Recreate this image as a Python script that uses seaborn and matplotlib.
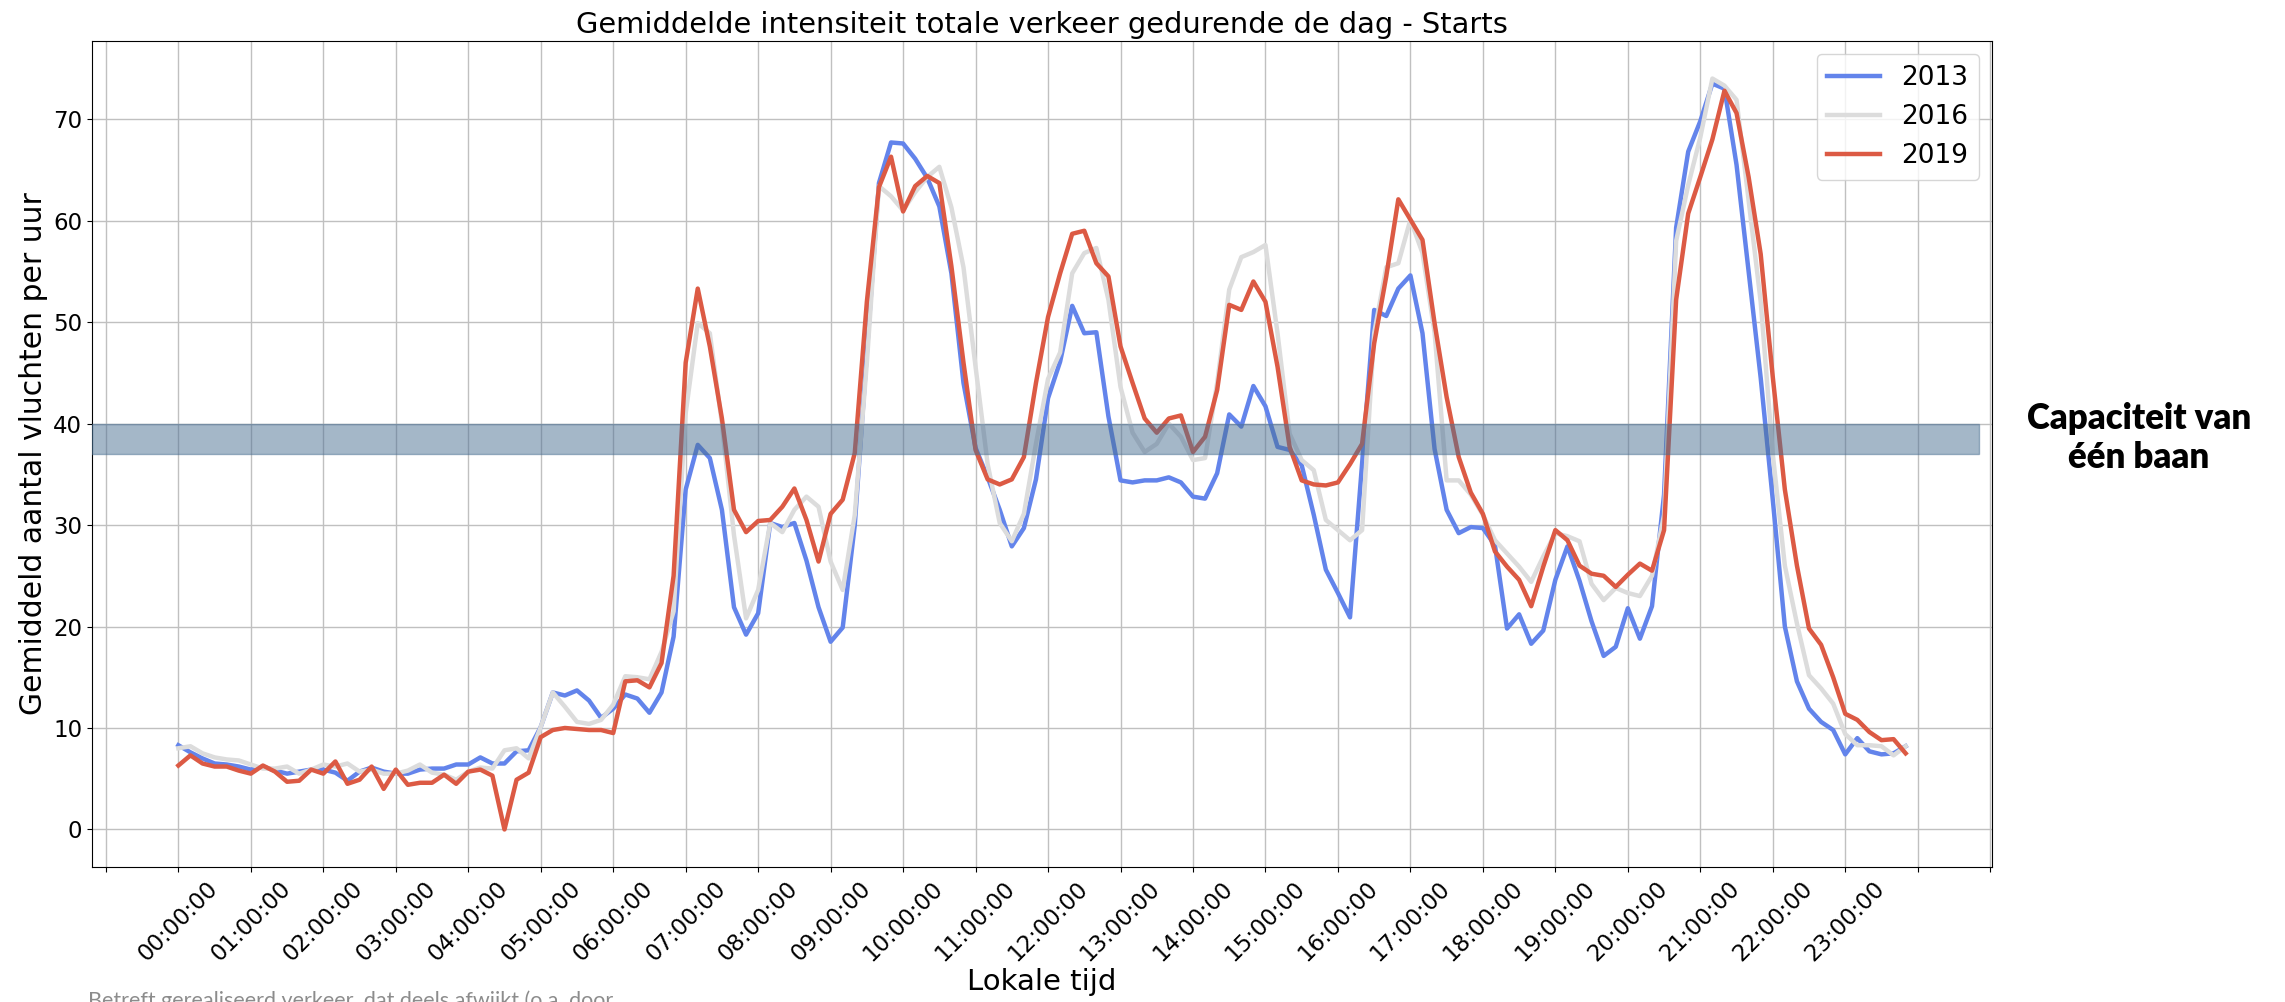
import numpy as np
import pandas as pd
import matplotlib
matplotlib.use("Agg")
import matplotlib.pyplot as plt
import seaborn as sns

# tijdstip van elke meting (10-minuten-blokken), in uren
tijd_uur = [m / 60 for m in range(0, 24 * 60, 10)]

# gemiddeld aantal starts per uur, per 10-minuten-blok
starts_2013 = [
    8.3, 7.6, 7.0, 6.5, 6.4, 6.2,
    5.9, 6.2, 5.8, 5.5, 5.7, 5.9,
    5.9, 5.6, 4.8, 5.7, 6.1, 5.7,
    5.5, 5.5, 5.9, 6.0, 6.0, 6.4,
    6.4, 7.1, 6.5, 6.5, 7.7, 7.8,
    10.1, 13.5, 13.2, 13.7, 12.7, 11.0,
    11.9, 13.3, 12.9, 11.5, 13.5, 19.0,
    33.5, 37.9, 36.6, 31.5, 21.9, 19.2,
    21.3, 30.2, 29.8, 30.2, 26.5, 21.9,
    18.5, 19.9, 30.0, 47.0, 63.7, 67.7,
    67.6, 66.1, 64.2, 61.4, 54.8, 44.0,
    37.6, 34.7, 31.5, 27.9, 29.7, 34.5,
    42.5, 46.1, 51.6, 48.9, 49.0, 40.7,
    34.4, 34.2, 34.4, 34.4, 34.7, 34.2,
    32.8, 32.6, 35.1, 40.9, 39.7, 43.7,
    41.7, 37.7, 37.4, 35.9, 31.0, 25.6,
    23.3, 20.9, 36.0, 51.2, 50.6, 53.3,
    54.6, 48.9, 37.5, 31.5, 29.2, 29.8,
    29.7, 28.0, 19.8, 21.2, 18.3, 19.6,
    24.6, 27.9, 24.5, 20.5, 17.1, 18.0,
    21.8, 18.8, 22.0, 33.0, 59.3, 66.8,
    69.8, 73.5, 73.0, 65.5, 55.0, 44.5,
    32.5, 20.0, 14.6, 11.9, 10.6, 9.8,
    7.4, 9.0, 7.7, 7.4, 7.5, 8.2,
]
starts_2016 = [
    8.0, 8.2, 7.5, 7.1, 6.9, 6.8,
    6.4, 6.0, 6.0, 6.2, 5.5, 5.9,
    6.4, 6.2, 6.5, 5.7, 5.9, 5.5,
    5.5, 5.8, 6.4, 5.6, 5.4, 4.9,
    5.7, 6.1, 6.0, 7.8, 8.0, 7.0,
    10.1, 13.5, 12.1, 10.6, 10.4, 10.8,
    12.3, 15.1, 15.0, 14.8, 17.5, 21.5,
    41.0, 49.9, 48.9, 40.0, 29.0, 20.8,
    23.6, 30.2, 29.3, 31.5, 32.8, 31.8,
    26.4, 23.6, 31.0, 46.0, 63.4, 62.4,
    61.0, 62.8, 64.3, 65.3, 61.3, 55.4,
    45.6, 36.0, 30.2, 28.4, 31.1, 38.0,
    44.4, 47.0, 54.8, 56.8, 57.3, 52.2,
    43.6, 39.1, 37.2, 38.0, 40.0, 38.7,
    36.4, 36.6, 44.0, 53.2, 56.4, 56.9,
    57.6, 48.9, 39.0, 36.4, 35.4, 30.5,
    29.5, 28.5, 29.5, 48.9, 55.4, 55.8,
    60.1, 56.8, 49.0, 34.4, 34.4, 33.0,
    31.0, 28.5, 27.2, 25.9, 24.4, 26.9,
    29.2, 28.9, 28.4, 24.2, 22.6, 23.8,
    23.3, 23.0, 25.0, 31.0, 58.0, 63.5,
    68.2, 74.0, 73.3, 71.9, 62.0, 52.0,
    37.0, 26.0, 20.3, 15.2, 13.9, 12.4,
    9.4, 8.3, 8.3, 8.2, 7.3, 8.2,
]
starts_2019 = [
    6.3, 7.3, 6.5, 6.2, 6.2, 5.8,
    5.5, 6.3, 5.7, 4.7, 4.8, 5.9,
    5.5, 6.7, 4.5, 4.9, 6.2, 4.0,
    5.9, 4.4, 4.6, 4.6, 5.4, 4.5,
    5.7, 5.9, 5.3, 0.0, 4.9, 5.6,
    9.1, 9.8, 10.0, 9.9, 9.8, 9.8,
    9.5, 14.6, 14.7, 14.0, 16.4, 25.0,
    46.0, 53.3, 47.6, 40.5, 31.5, 29.3,
    30.4, 30.5, 31.8, 33.6, 30.5, 26.4,
    31.1, 32.5, 37.1, 52.0, 63.3, 66.3,
    60.9, 63.4, 64.4, 63.7, 55.5, 46.0,
    37.4, 34.5, 34.0, 34.5, 36.7, 44.0,
    50.5, 54.8, 58.7, 59.0, 55.8, 54.5,
    47.6, 44.0, 40.5, 39.1, 40.5, 40.8,
    37.2, 38.7, 43.3, 51.7, 51.2, 54.0,
    52.0, 45.6, 37.7, 34.4, 34.0, 33.9,
    34.2, 36.0, 38.0, 47.9, 54.5, 62.1,
    60.1, 58.1, 49.9, 42.6, 36.7, 33.2,
    31.1, 27.4, 25.9, 24.6, 22.0, 25.9,
    29.5, 28.5, 26.0, 25.2, 25.0, 23.9,
    25.1, 26.2, 25.5, 29.5, 52.2, 60.7,
    64.3, 68.0, 72.8, 70.6, 64.3, 56.7,
    44.6, 33.5, 26.0, 19.8, 18.2, 15.0,
    11.4, 10.8, 9.6, 8.8, 8.9, 7.5,
]

jaren = ["2013", "2016", "2019"]
kleuren = ["#6384eb", "#dcdcdc", "#dc5a44"]

# capaciteit van een baan (band tussen deze waarden)
capaciteit = [37, 40]

# x-as: elk uur een tick, alleen 00..23 krijgt een label
tick_uren = list(range(-1, 26))
tick_labels = [f"{u:02d}:00:00" if 0 <= u <= 23 else "" for u in tick_uren]

df = pd.DataFrame({
    "tijd": tijd_uur * 3,
    "starts": starts_2013 + starts_2016 + starts_2019,
    "jaar": [j for j in jaren for _ in tijd_uur],
})

fig = plt.figure(figsize=(22.85, 10.02), dpi=100)
ax = fig.add_axes([92 / 2285, 1 - 867 / 1002, 1900 / 2285, 826 / 1002])

for jaar, kleur in zip(jaren, kleuren):
    sns.lineplot(data=df[df["jaar"] == jaar], x="tijd", y="starts",
                 color=kleur, linewidth=3.2, label=jaar, ax=ax)

ax.axhspan(capaciteit[0], capaciteit[1], xmin=0, xmax=0.993,
           color="#4b7093", alpha=0.5, zorder=3)

ax.set_xticks(tick_uren)
ax.set_xticklabels(tick_labels, rotation=45, fontsize=16.5)
ax.set_yticks(range(0, 80, 10))
ax.tick_params(axis="y", labelsize=16.5)
ax.grid(True, color="#c0c0c0", linewidth=1.0)

ax.set_title("Gemiddelde intensiteit totale verkeer gedurende de dag - Starts",
             fontsize=20.8)
ax.set_xlabel("Lokale tijd", fontsize=21, labelpad=2)
ax.set_ylabel("Gemiddeld aantal vluchten per uur", fontsize=21.5)

ax.legend(loc="upper right", fontsize=19)

fig.text(2139 / 2285, 1 - 438 / 1002, "Capaciteit van\néén baan",
         ha="center", va="center", multialignment="center",
         fontsize=25, fontweight="heavy", family="Lato", linespacing=1.2)

fig.text(88 / 2285, 1 - 990 / 1002,
         "Betreft gerealiseerd verkeer, dat deels afwijkt (o.a. door",
         ha="left", va="top", fontsize=15.5, color="#8c8c8c", family="Lato")

fig.savefig("out.png", dpi=100)
